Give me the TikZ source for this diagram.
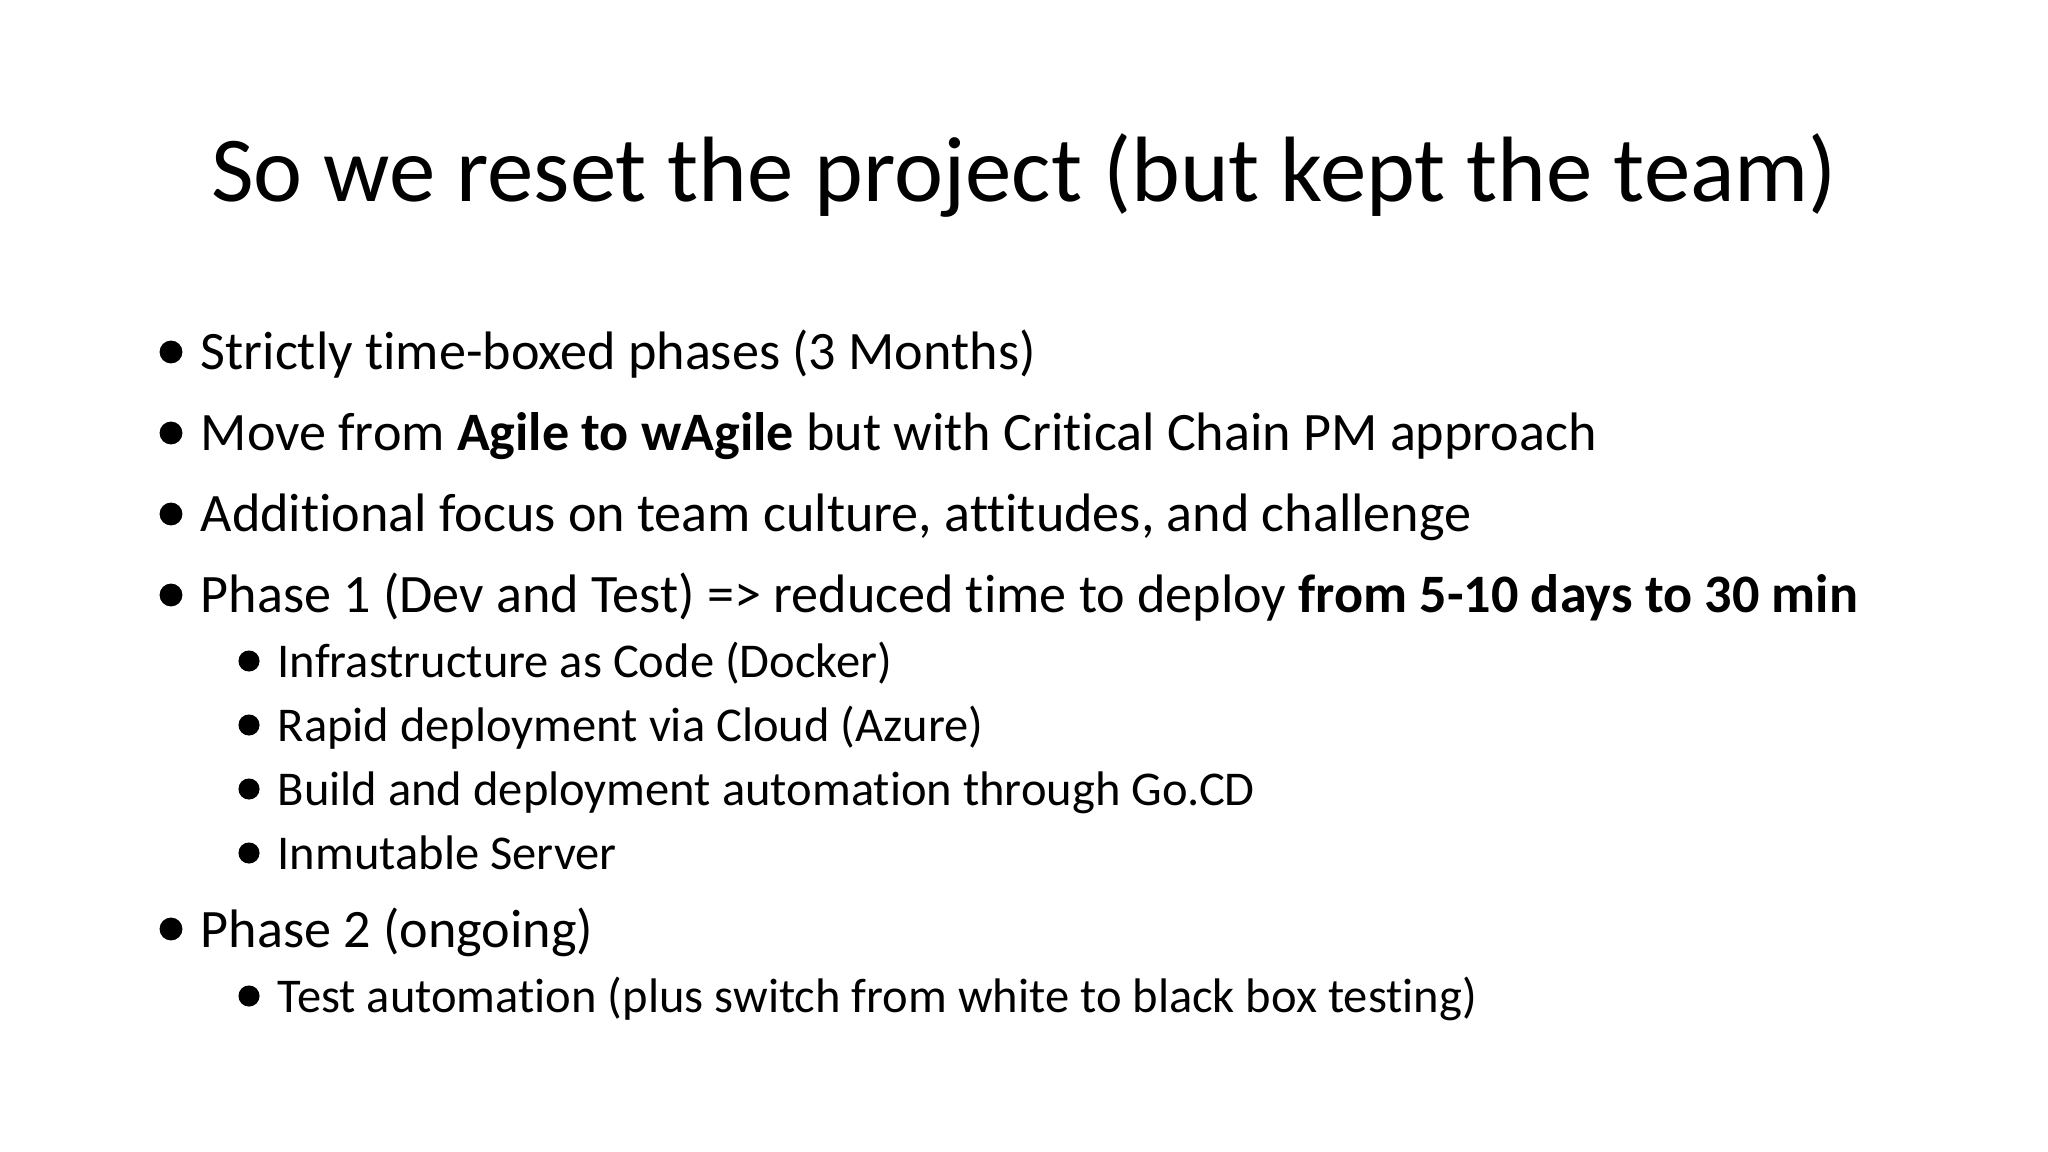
\documentclass[tikz,border=0pt]{standalone}
\usepackage{fontspec}
\setmainfont[Ligatures=NoCommon]{Carlito}
\begin{document}
\begin{tikzpicture}[x=0.01cm,y=-0.01cm,
  lvl/.style={anchor=base west,inner sep=0pt,font=\fontsize{15.4}{18}\selectfont},
  sub/.style={anchor=base west,inner sep=0pt,font=\fontsize{13.8}{16}\selectfont},
  dot/.style={circle,fill=black,inner sep=0pt,minimum size=6.5}]
\useasboundingbox[fill=white] (0,0) rectangle (2048,1152);
\node[anchor=base,inner sep=0pt,font=\fontsize{26.4}{30}\selectfont] (title) at (1024,202) {So we reset the project (but kept the team)};
\foreach \y/\t [count=\i] in {370/{Strictly time-boxed phases (3 Months)},
  451/{Move from \textbf{Agile to wAgile} but with Critical Chain PM approach},
  532/{Additional focus on team culture, attitudes, and challenge},
  613/{Phase 1 (Dev and Test) => reduced time to deploy \textbf{from 5-10 days to 30 min}},
  947/{Phase 2 (ongoing)}}{
  \node[dot] (b\i) at (171,\y-18) {};
  \node[lvl] (t\i) at (200,\y) {\t};
}
\foreach \y/\t [count=\i] in {677/{Infrastructure as Code (Docker)},
  741/{Rapid deployment via Cloud (Azure)},
  805/{Build and deployment automation through Go.CD},
  869/{Inmutable Server},
  1012/{Test automation (plus switch from white to black box testing)}}{
  \node[dot,minimum size=6] (sb\i) at (249,\y-16) {};
  \node[sub] (s\i) at (277,\y) {\t};
}
\end{tikzpicture}
\end{document}
